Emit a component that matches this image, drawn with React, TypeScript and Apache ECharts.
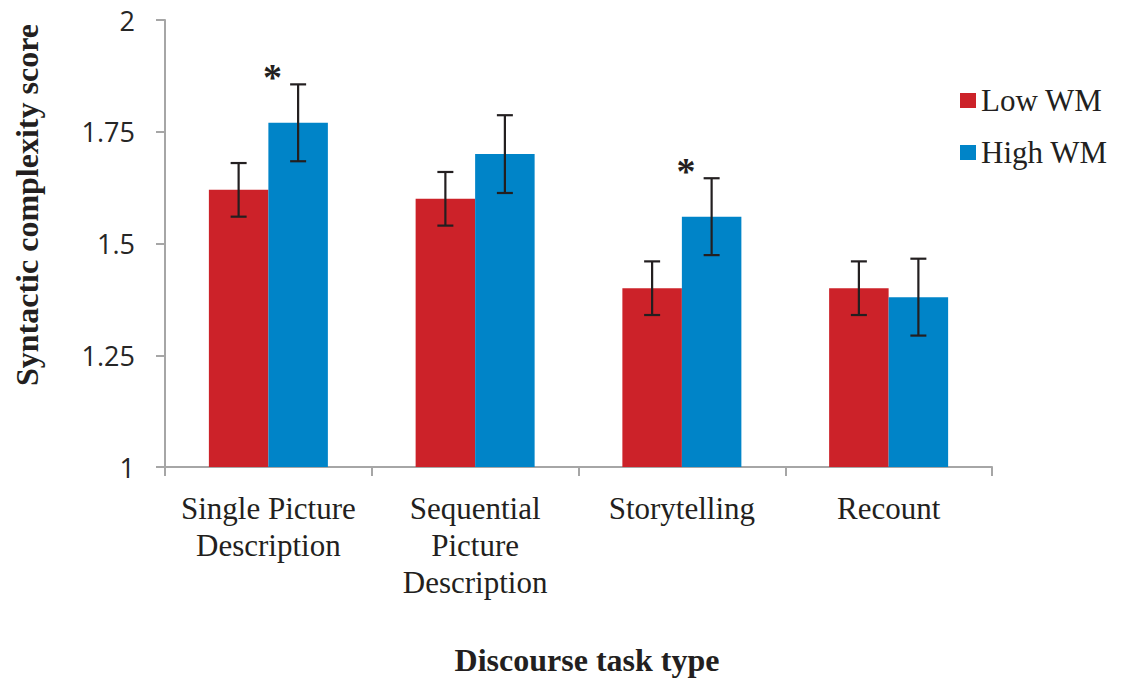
import React, { useEffect, useRef } from "react";
import * as echarts from "echarts";

const categories = [
  "Single Picture\nDescription",
  "Sequential\nPicture\nDescription",
  "Storytelling",
  "Recount",
];
const lowWM = [1.62, 1.6, 1.4, 1.4];
const highWM = [1.77, 1.7, 1.56, 1.38];
const lowErr = [0.06, 0.06, 0.06, 0.06];
const highErr = [0.086, 0.087, 0.086, 0.086];
const significant = [true, false, true, false];
const yTicks = { min: 1, max: 2, interval: 0.25 };

const SERIF = "'Liberation Serif', 'Times New Roman', serif";
const SANS = "'Open Sans', 'Liberation Sans', sans-serif";
const RED = "#CC2229";
const BLUE = "#0084C8";
const INK = "#231f20";
const BAR_W = 59.5;

export default function App() {
  const ref = useRef<HTMLDivElement>(null);
  useEffect(() => {
    if (!ref.current) return;
    const chart = echarts.init(ref.current, null, { renderer: "svg" });

    const errData: number[][] = [];
    lowWM.forEach((v, i) => errData.push([i, v, lowErr[i], -1]));
    highWM.forEach((v, i) => errData.push([i, v, highErr[i], 1]));
    const starData: number[][] = [];
    significant.forEach((s, i) => {
      if (s) starData.push([i, highWM[i] + highErr[i]]);
    });

    chart.setOption({
      animation: false,
      backgroundColor: "#ffffff",
      grid: { left: 165, right: 129, top: 20, bottom: 212, containLabel: false },
      legend: {
        data: ["Low WM", "High WM"],
        orient: "vertical",
        left: 955,
        top: 80,
        itemWidth: 16,
        itemHeight: 15,
        itemGap: 21,
        icon: "rect",
        textStyle: { fontFamily: SERIF, fontSize: 31, color: INK },
      },
      xAxis: {
        type: "category",
        data: categories,
        axisLine: { lineStyle: { color: "#a6a6a6", width: 2 } },
        axisTick: { show: true, length: 9, lineStyle: { color: "#a6a6a6", width: 2 } },
        axisLabel: {
          fontFamily: SERIF,
          fontSize: 31,
          lineHeight: 37,
          color: INK,
          margin: 23,
          interval: 0,
        },
      },
      yAxis: {
        type: "value",
        min: yTicks.min,
        max: yTicks.max,
        interval: yTicks.interval,
        splitLine: { show: false },
        axisLine: { show: true, lineStyle: { color: "#a6a6a6", width: 2 } },
        axisTick: { show: true, length: 9, lineStyle: { color: "#a6a6a6", width: 2 } },
        axisLabel: { fontFamily: SANS, fontSize: 27, color: "#262626", margin: 30 },
      },
      series: [
        {
          name: "Low WM",
          type: "bar",
          data: lowWM,
          barWidth: BAR_W,
          barGap: "0%",
          itemStyle: { color: RED },
        },
        {
          name: "High WM",
          type: "bar",
          data: highWM,
          barWidth: BAR_W,
          barGap: "0%",
          itemStyle: { color: BLUE },
        },
        {
          type: "custom",
          name: "err",
          z: 5,
          data: errData,
          encode: { x: 0, y: 1 },
          renderItem: (params: any, api: any) => {
            const ci = api.value(0);
            const m = api.value(1);
            const e = api.value(2);
            const side = api.value(3);
            const top = api.coord([ci, m + e]);
            const bot = api.coord([ci, m - e]);
            const cx = top[0] + (side * BAR_W) / 2;
            const cap = 8;
            const st = { stroke: INK, lineWidth: 2.2 };
            return {
              type: "group",
              children: [
                { type: "line", shape: { x1: cx, y1: top[1], x2: cx, y2: bot[1] }, style: st },
                { type: "line", shape: { x1: cx - cap, y1: top[1], x2: cx + cap, y2: top[1] }, style: st },
                { type: "line", shape: { x1: cx - cap, y1: bot[1], x2: cx + cap, y2: bot[1] }, style: st },
              ],
            };
          },
        },
        {
          type: "custom",
          name: "sig",
          z: 5,
          data: starData,
          encode: { x: 0, y: 1 },
          renderItem: (params: any, api: any) => {
            const p = api.coord([api.value(0), api.value(1)]);
            return {
              type: "text",
              x: p[0] + 4,
              y: p[1] + 12,
              style: {
                text: "*",
                fontFamily: SERIF,
                fontWeight: "bold",
                fontSize: 38,
                fill: INK,
                textAlign: "center",
                textVerticalAlign: "bottom",
              },
            };
          },
        },
      ],
      graphic: [
        {
          type: "text",
          x: 27,
          y: 205,
          rotation: Math.PI / 2,
          style: {
            text: "Syntactic complexity score",
            fontFamily: SERIF,
            fontWeight: "bold",
            fontSize: 32,
            fill: INK,
            textAlign: "center",
            textVerticalAlign: "middle",
          },
        },
        {
          type: "text",
          x: 587,
          y: 660,
          style: {
            text: "Discourse task type",
            fontFamily: SERIF,
            fontWeight: "bold",
            fontSize: 32,
            fill: INK,
            textAlign: "center",
            textVerticalAlign: "middle",
          },
        },
      ],
    });
    return () => chart.dispose();
  }, []);
  return (
    <div
      ref={ref}
      style={{ position: "fixed", left: 0, top: 0, width: 1121, height: 679 }}
    />
  );
}
